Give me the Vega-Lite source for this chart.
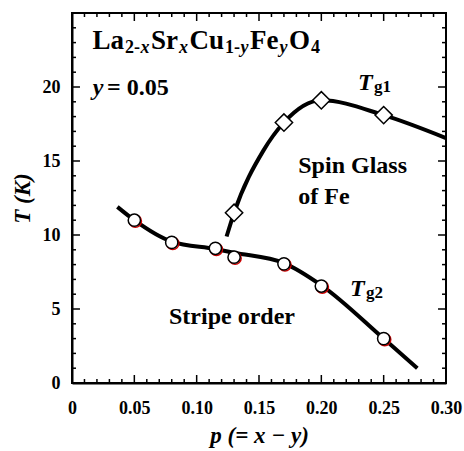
{
  "$schema": "https://vega.github.io/schema/vega-lite/v6.json",
  "width": 374,
  "height": 370,
  "autosize": "none",
  "padding": {"left": 72, "top": 13, "right": 18, "bottom": 68},
  "background": "white",
  "config": {
    "view": {"stroke": "black", "strokeWidth": 2},
    "axis": {
      "domainColor": "black", "domainWidth": 2, "ticks": false,
      "labelFont": "Liberation Serif", "labelFontWeight": "bold", "labelFontSize": 18, "labelColor": "black",
      "titleFont": "Liberation Serif", "titleFontWeight": "bold", "titleFontSize": 23, "titleColor": "black",
      "grid": false, "labelOverlap": false, "labelFlush": false
    }
  },
  "datasets": {
    "tg2_line": [
      {"p": 0.0364, "T": 11.9}, {"p": 0.05, "T": 11.0}, {"p": 0.08, "T": 9.55}, {"p": 0.115, "T": 9.05},
      {"p": 0.13, "T": 8.8}, {"p": 0.17, "T": 8.1}, {"p": 0.20, "T": 6.6}, {"p": 0.25, "T": 3.0}, {"p": 0.277, "T": 1.0}
    ],
    "tg2_pts": [
      {"p": 0.05, "T": 11.0}, {"p": 0.08, "T": 9.5}, {"p": 0.115, "T": 9.1}, {"p": 0.13, "T": 8.5},
      {"p": 0.17, "T": 8.05}, {"p": 0.20, "T": 6.55}, {"p": 0.25, "T": 3.0}
    ],
    "tg1_line": [
      {"p": 0.124, "T": 9.9}, {"p": 0.13, "T": 11.5}, {"p": 0.1535, "T": 15.7}, {"p": 0.17, "T": 17.6},
      {"p": 0.20, "T": 19.1}, {"p": 0.25, "T": 18.1}, {"p": 0.30, "T": 16.55}
    ],
    "tg1_pts": [
      {"p": 0.13, "T": 11.5}, {"p": 0.17, "T": 17.6}, {"p": 0.20, "T": 19.1}, {"p": 0.25, "T": 18.1}
    ],
    "xticks_major": [{"p": 0.05}, {"p": 0.10}, {"p": 0.15}, {"p": 0.20}, {"p": 0.25}],
    "xticks_minor": [
      {"p": 0.01}, {"p": 0.02}, {"p": 0.03}, {"p": 0.04}, {"p": 0.06}, {"p": 0.07}, {"p": 0.08}, {"p": 0.09},
      {"p": 0.11}, {"p": 0.12}, {"p": 0.13}, {"p": 0.14}, {"p": 0.16}, {"p": 0.17}, {"p": 0.18}, {"p": 0.19},
      {"p": 0.21}, {"p": 0.22}, {"p": 0.23}, {"p": 0.24}, {"p": 0.26}, {"p": 0.27}, {"p": 0.28}, {"p": 0.29}
    ],
    "yticks_major": [{"T": 5}, {"T": 10}, {"T": 15}, {"T": 20}],
    "yticks_minor": [
      {"T": 1}, {"T": 2}, {"T": 3}, {"T": 4}, {"T": 6}, {"T": 7}, {"T": 8}, {"T": 9}, {"T": 11}, {"T": 12},
      {"T": 13}, {"T": 14}, {"T": 16}, {"T": 17}, {"T": 18}, {"T": 19}, {"T": 21}, {"T": 22}, {"T": 23}, {"T": 24}
    ],
    "formula_main": [
      {"p": 0.01644, "T": 22.57, "label": "La"}, {"p": 0.06337, "T": 22.57, "label": "Sr"},
      {"p": 0.09425, "T": 22.57, "label": "Cu"}, {"p": 0.14278, "T": 22.57, "label": "Fe"},
      {"p": 0.17406, "T": 22.57, "label": "O"}
    ],
    "formula_sub": [
      {"p": 0.04251, "T": 22.30, "label": "2-"}, {"p": 0.12273, "T": 22.30, "label": "1-"},
      {"p": 0.19171, "T": 22.30, "label": "4"}
    ],
    "formula_sub_it": [
      {"p": 0.05495, "T": 22.30, "label": "x"}, {"p": 0.08583, "T": 22.30, "label": "x"},
      {"p": 0.13516, "T": 22.30, "label": "y"}, {"p": 0.16644, "T": 22.30, "label": "y"}
    ],
    "text_upright": [
      {"p": 0.0281, "T": 19.46, "label": "= 0.05"}, {"p": 0.1815, "T": 14.19, "label": "Spin Glass"},
      {"p": 0.1815, "T": 12.09, "label": "of Fe"}, {"p": 0.0778, "T": 3.99, "label": "Stripe order"}
    ],
    "text_italic": [
      {"p": 0.0166, "T": 19.46, "label": "y"}, {"p": 0.2294, "T": 19.80, "label": "T"},
      {"p": 0.2230, "T": 5.88, "label": "T"}
    ],
    "tg_sub": [
      {"p": 0.2422, "T": 19.63, "label": "g1"}, {"p": 0.2358, "T": 5.71, "label": "g2"}
    ]
  },
  "resolve": {"axis": {"x": "independent", "y": "independent"}},
  "layer": [
    {
      "data": {"name": "tg2_line"},
      "mark": {"type": "line", "color": "black", "strokeWidth": 4, "interpolate": "monotone"},
      "encoding": {
        "x": {"field": "p", "type": "quantitative",
          "scale": {"domain": [0, 0.3], "nice": false, "zero": false},
          "axis": {"orient": "bottom", "title": "p (= x − y)", "titleFontStyle": "italic", "titlePadding": 7,
            "values": [0.05, 0.1, 0.15, 0.2, 0.25, 0.3], "format": ".2f",
            "labelPadding": 16, "labelBaseline": "top"}},
        "y": {"field": "T", "type": "quantitative",
          "scale": {"domain": [0, 25], "nice": false},
          "axis": {"orient": "left", "title": "T (K)", "titleFontStyle": "italic", "titlePadding": 8,
            "values": [0, 5, 10, 15, 20],
            "labelPadding": 12, "labelBaseline": "middle"}}
      }
    },
    {
      "data": {"name": "tg1_line"},
      "mark": {"type": "line", "color": "black", "strokeWidth": 4, "interpolate": "monotone"},
      "encoding": {
        "x": {"field": "p", "type": "quantitative",
          "axis": {"orient": "bottom", "title": null, "domain": false,
            "values": [0], "format": "d", "labelPadding": 16, "labelBaseline": "top"}},
        "y": {"field": "T", "type": "quantitative", "axis": null}
      }
    },
    {
      "data": {"name": "xticks_major"},
      "mark": {"type": "rule", "color": "black", "strokeWidth": 1.5},
      "encoding": {
        "x": {"field": "p", "type": "quantitative", "axis": null},
        "y": {"datum": 0, "type": "quantitative", "axis": null},
        "y2": {"datum": 0.54}
      }
    },
    {
      "data": {"name": "xticks_minor"},
      "mark": {"type": "rule", "color": "black", "strokeWidth": 1.5},
      "encoding": {
        "x": {"field": "p", "type": "quantitative", "axis": null},
        "y": {"datum": 0, "type": "quantitative", "axis": null},
        "y2": {"datum": 0.27}
      }
    },
    {
      "data": {"name": "xticks_major"},
      "mark": {"type": "rule", "color": "black", "strokeWidth": 1.5},
      "encoding": {
        "x": {"field": "p", "type": "quantitative", "axis": null},
        "y": {"datum": 25, "type": "quantitative", "axis": null},
        "y2": {"datum": 24.46}
      }
    },
    {
      "data": {"name": "xticks_minor"},
      "mark": {"type": "rule", "color": "black", "strokeWidth": 1.5},
      "encoding": {
        "x": {"field": "p", "type": "quantitative", "axis": null},
        "y": {"datum": 25, "type": "quantitative", "axis": null},
        "y2": {"datum": 24.73}
      }
    },
    {
      "data": {"name": "yticks_major"},
      "mark": {"type": "rule", "color": "black", "strokeWidth": 1.5},
      "encoding": {
        "y": {"field": "T", "type": "quantitative", "axis": null},
        "x": {"datum": 0, "type": "quantitative", "axis": null},
        "x2": {"datum": 0.0064}
      }
    },
    {
      "data": {"name": "yticks_minor"},
      "mark": {"type": "rule", "color": "black", "strokeWidth": 1.5},
      "encoding": {
        "y": {"field": "T", "type": "quantitative", "axis": null},
        "x": {"datum": 0, "type": "quantitative", "axis": null},
        "x2": {"datum": 0.0032}
      }
    },
    {
      "data": {"name": "yticks_major"},
      "mark": {"type": "rule", "color": "black", "strokeWidth": 1.5},
      "encoding": {
        "y": {"field": "T", "type": "quantitative", "axis": null},
        "x": {"datum": 0.3, "type": "quantitative", "axis": null},
        "x2": {"datum": 0.2936}
      }
    },
    {
      "data": {"name": "yticks_minor"},
      "mark": {"type": "rule", "color": "black", "strokeWidth": 1.5},
      "encoding": {
        "y": {"field": "T", "type": "quantitative", "axis": null},
        "x": {"datum": 0.3, "type": "quantitative", "axis": null},
        "x2": {"datum": 0.2968}
      }
    },
    {
      "data": {"name": "tg2_pts"},
      "mark": {"type": "point", "shape": "circle", "filled": false, "stroke": "#d00000", "strokeWidth": 1.5, "size": 150, "xOffset": 1, "yOffset": 1, "opacity": 1},
      "encoding": {
        "x": {"field": "p", "type": "quantitative", "axis": null},
        "y": {"field": "T", "type": "quantitative", "axis": null}
      }
    },
    {
      "data": {"name": "tg2_pts"},
      "mark": {"type": "point", "shape": "circle", "filled": true, "fill": "white", "stroke": "black", "strokeWidth": 1.5, "size": 150, "opacity": 1},
      "encoding": {
        "x": {"field": "p", "type": "quantitative", "axis": null},
        "y": {"field": "T", "type": "quantitative", "axis": null}
      }
    },
    {
      "data": {"name": "tg1_pts"},
      "mark": {"type": "point", "shape": "diamond", "filled": true, "fill": "white", "stroke": "black", "strokeWidth": 1.5, "size": 300, "opacity": 1},
      "encoding": {
        "x": {"field": "p", "type": "quantitative", "axis": null},
        "y": {"field": "T", "type": "quantitative", "axis": null}
      }
    },
    {
      "data": {"name": "formula_main"},
      "mark": {"type": "text", "font": "Liberation Serif", "fontWeight": "bold", "fontSize": 27, "align": "left", "baseline": "alphabetic", "color": "black"},
      "encoding": {
        "x": {"field": "p", "type": "quantitative", "axis": null},
        "y": {"field": "T", "type": "quantitative", "axis": null},
        "text": {"field": "label"}
      }
    },
    {
      "data": {"name": "formula_sub"},
      "mark": {"type": "text", "font": "Liberation Serif", "fontWeight": "bold", "fontSize": 18, "align": "left", "baseline": "alphabetic", "color": "black"},
      "encoding": {
        "x": {"field": "p", "type": "quantitative", "axis": null},
        "y": {"field": "T", "type": "quantitative", "axis": null},
        "text": {"field": "label"}
      }
    },
    {
      "data": {"name": "formula_sub_it"},
      "mark": {"type": "text", "font": "Liberation Serif", "fontWeight": "bold", "fontStyle": "italic", "fontSize": 18, "align": "left", "baseline": "alphabetic", "color": "black"},
      "encoding": {
        "x": {"field": "p", "type": "quantitative", "axis": null},
        "y": {"field": "T", "type": "quantitative", "axis": null},
        "text": {"field": "label"}
      }
    },
    {
      "data": {"name": "text_upright"},
      "mark": {"type": "text", "font": "Liberation Serif", "fontWeight": "bold", "fontSize": 24, "align": "left", "baseline": "alphabetic", "color": "black"},
      "encoding": {
        "x": {"field": "p", "type": "quantitative", "axis": null},
        "y": {"field": "T", "type": "quantitative", "axis": null},
        "text": {"field": "label"}
      }
    },
    {
      "data": {"name": "text_italic"},
      "mark": {"type": "text", "font": "Liberation Serif", "fontWeight": "bold", "fontStyle": "italic", "fontSize": 24, "align": "left", "baseline": "alphabetic", "color": "black"},
      "encoding": {
        "x": {"field": "p", "type": "quantitative", "axis": null},
        "y": {"field": "T", "type": "quantitative", "axis": null},
        "text": {"field": "label"}
      }
    },
    {
      "data": {"name": "tg_sub"},
      "mark": {"type": "text", "font": "Liberation Serif", "fontWeight": "bold", "fontSize": 17, "align": "left", "baseline": "alphabetic", "color": "black"},
      "encoding": {
        "x": {"field": "p", "type": "quantitative", "axis": null},
        "y": {"field": "T", "type": "quantitative", "axis": null},
        "text": {"field": "label"}
      }
    }
  ]
}
